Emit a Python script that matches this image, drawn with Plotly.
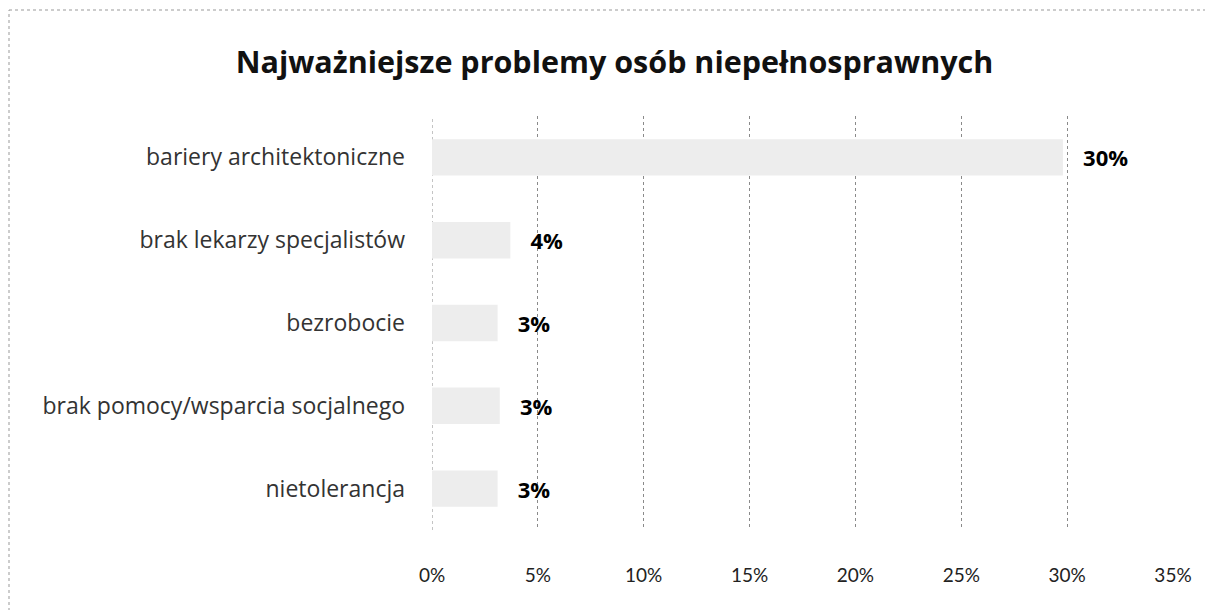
import plotly.graph_objects as go

categories = ["bariery architektoniczne", "brak lekarzy specjalistów", "bezrobocie",
              "brak pomocy/wsparcia socjalnego", "nietolerancja"]
values = [29.8, 3.7, 3.1, 3.2, 3.1]
labels = ["30%", "4%", "3%", "3%", "3%"]
tick_vals = [0, 5, 10, 15, 20, 25, 30, 35]
tick_text = ["0%", "5%", "10%", "15%", "20%", "25%", "30%", "35%"]

W, H = 1213, 610
# page body adds an 8px offset, margins compensate for it
L, R, T, B = 424, 48, 108, 88
PW, PH = W - L - R, H - T - B

fig = go.Figure(go.Bar(
    y=categories, x=values, orientation="h",
    marker=dict(color="#ededed", line=dict(width=0)),
    text=labels, textposition="outside", cliponaxis=False,
    textfont=dict(family="Open Sans, sans-serif", size=22, color="#000000"),
    texttemplate="\u00a0\u00a0\u00a0<b>%{text}</b>",
))

fig.update_layout(
    width=W, height=H,
    margin=dict(l=L, r=R, t=T, b=B),
    paper_bgcolor="white", plot_bgcolor="white",
    bargap=0.56,
    showlegend=False,
    title=dict(text="<b>Najważniejsze problemy osób niepełnosprawnych</b>",
               x=0.5, xanchor="center", y=1 - 54 / H, yanchor="middle",
               font=dict(family="Open Sans, sans-serif", size=30.5, color="#111111")),
    xaxis=dict(range=[0, 35], tickvals=tick_vals, ticktext=tick_text,
               showgrid=True, gridcolor="#8a8a8a", griddash="dot", gridwidth=1,
               zeroline=False, showline=False, ticks="",
               ticklabelstandoff=32,
               tickfont=dict(family="Lato, sans-serif", size=19, color="#222222")),
    yaxis=dict(autorange="reversed", showline=False, ticks="", showgrid=False,
               ticklabelstandoff=26,
               tickfont=dict(family="Open Sans, sans-serif", size=23, color="#333333")),
    shapes=[
        dict(type="line", xref="x", yref="paper", x0=0, x1=0, y0=0, y1=1,
             layer="below", line=dict(color="#8a8a8a", width=1, dash="dot")),
        dict(type="line", xref="paper", yref="paper",
             x0=-(L - 1) / PW, x1=-(L - 1) / PW,
             y0=-(B - 1) / PH, y1=1 + (T - 2) / PH,
             line=dict(color="#999999", width=1, dash="dot")),
        dict(type="line", xref="paper", yref="paper",
             x0=-(L - 1) / PW, x1=1 + (R - 1) / PW,
             y0=1 + (T - 2) / PH, y1=1 + (T - 2) / PH,
             line=dict(color="#999999", width=1, dash="dot")),
    ],
)

fig.write_html("out.html")
